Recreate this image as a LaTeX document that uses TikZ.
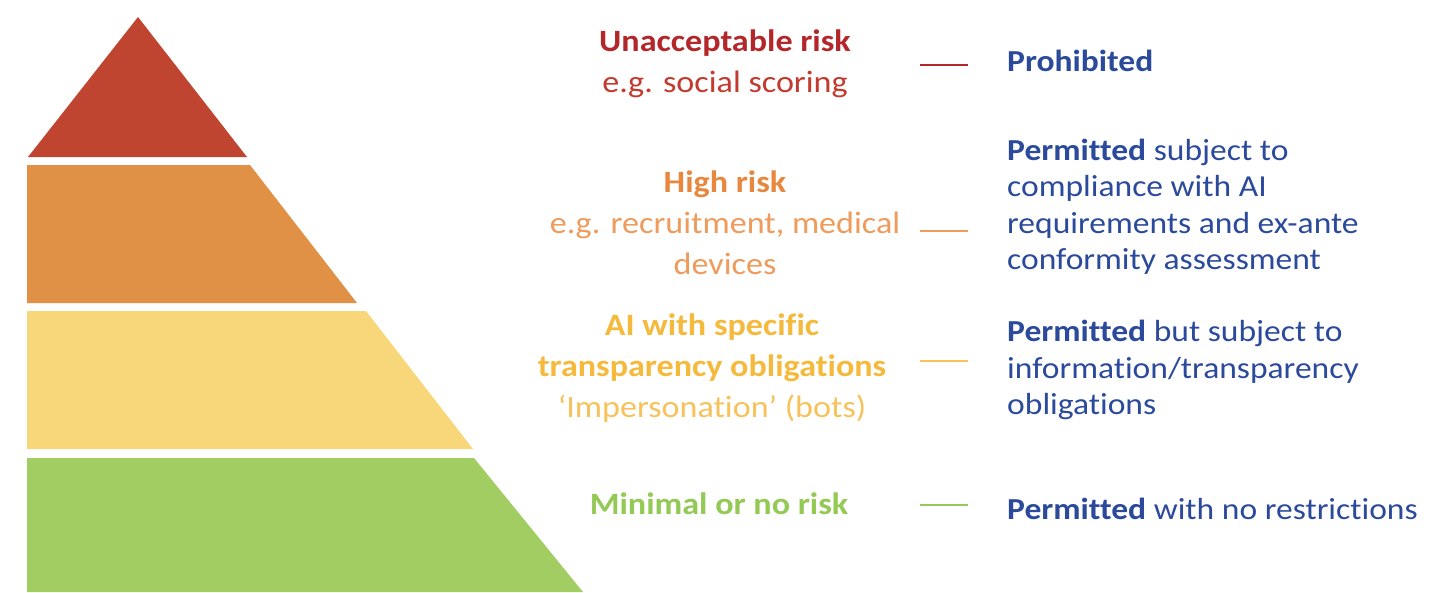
\documentclass[tikz,border=0pt]{standalone}
\usepackage{fontspec}
\setmainfont{Carlito}[FakeStretch=1.1,Ligatures=NoCommon]
\definecolor{pred}{HTML}{BF4530}
\definecolor{porange}{HTML}{E09146}
\definecolor{pyellow}{HTML}{F8D77A}
\definecolor{pgreen}{HTML}{A2CD63}
\definecolor{tred}{HTML}{B3272A}
\definecolor{tredl}{HTML}{C23B2E}
\definecolor{torange}{HTML}{E8883F}
\definecolor{torangel}{HTML}{EE9B5C}
\definecolor{tyellow}{HTML}{F5B93C}
\definecolor{tyellowl}{HTML}{F7C25A}
\definecolor{tgreen}{HTML}{93C955}
\definecolor{tblue}{HTML}{2B4A9B}
\tikzset{
  lefttext/.style={align=center, font=\fontsize{31}{41}\selectfont, inner sep=0pt},
  righttext/.style={align=left, anchor=west, font=\fontsize{30.5}{36.5}\selectfont, text=tblue, inner sep=0pt},
  tick/.style={line width=2.4pt},
}
\begin{document}
\begin{tikzpicture}[x=1pt,y=-1pt]
\useasboundingbox (0,0) rectangle (1439,592);
% pyramid
\fill[pred] (138,17) -- (247,157) -- (28,157) -- cycle;
\fill[porange] (27,165) -- (250,165) -- (357,303) -- (27,303) -- cycle;
\fill[pyellow] (27,311) -- (366,311) -- (473,449) -- (27,449) -- cycle;
\fill[pgreen] (27,458) -- (474,458) -- (583,592) -- (27,592) -- cycle;
% left texts
\node[lefttext] (l1) at (725,64) {\textcolor{tred}{\textbf{Unacceptable risk}}\\\textcolor{tredl}{e.g. social scoring}};
\node[lefttext] (l2) at (725,223) {\textcolor{torange}{\textbf{High risk}}\\\textcolor{torangel}{e.g. recruitment, medical}\\\textcolor{torangel}{devices}};
\node[lefttext] (l3) at (712,368) {\textcolor{tyellow}{\textbf{AI with specific}}\\\textcolor{tyellow}{\textbf{transparency obligations}}\\\textcolor{tyellowl}{‘Impersonation’ (bots)}};
\node[lefttext] (l4) at (719,504) {\textcolor{tgreen}{\textbf{Minimal or no risk}}};
% ticks
\coordinate (a1) at (920,65); \coordinate (b1) at (968,65);
\coordinate (a2) at (920,231); \coordinate (b2) at (968,231);
\coordinate (a3) at (920,361); \coordinate (b3) at (968,361);
\coordinate (a4) at (920,505); \coordinate (b4) at (968,505);
\draw[tick, tred] (a1) -- (b1);
\draw[tick, torangel] (a2) -- (b2);
\draw[tick, tyellowl] (a3) -- (b3);
\draw[tick, tgreen] (a4) -- (b4);
% right texts
\node[righttext] (r1) at (1007,61) {\textbf{Prohibited}};
\node[righttext] (r2) at (1007,207) {\textbf{Permitted} subject to\\compliance with AI\\requirements and ex-ante\\conformity assessment};
\node[righttext] (r3) at (1007,370) {\textbf{Permitted} but subject to\\information/transparency\\obligations};
\node[righttext] (r4) at (1007,509) {\textbf{Permitted} with no restrictions};
\end{tikzpicture}
\end{document}
